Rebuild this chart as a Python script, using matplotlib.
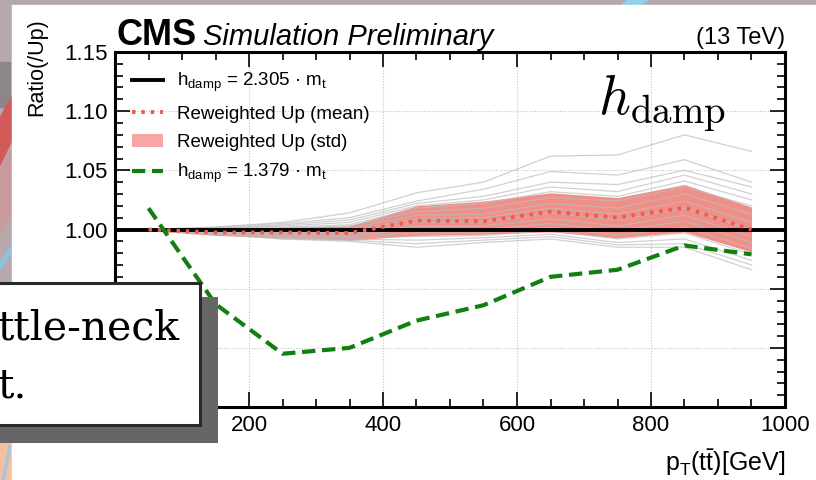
import matplotlib
matplotlib.use("Agg")
import matplotlib.pyplot as plt
from matplotlib.lines import Line2D
from matplotlib.patches import Patch, Rectangle, Polygon
from matplotlib.ticker import MultipleLocator, FormatStrFormatter

# ---- data -------------------------------------------------------------
pt_centers = [50, 150, 250, 350, 450, 550, 650, 750, 850, 950]

ratio_nominal = 1.0   # h_damp = 2.305 m_t reference (ratio to itself)

ratio_low_hdamp = [1.018, 0.937, 0.895, 0.900, 0.923, 0.936, 0.960, 0.966, 0.9865, 0.979]

rew_mean = [1.000, 0.9975, 0.9975, 0.997, 1.0075, 1.007, 1.015, 1.010, 1.0185, 1.000]
rew_upper = [1.001, 1.001, 1.002, 1.003, 1.020, 1.024, 1.031, 1.027, 1.038, 1.019]
rew_lower = [0.999, 0.995, 0.993, 0.991, 0.995, 0.996, 0.998, 0.993, 0.998, 0.981]

replicas = [
    [1.000, 1.002, 1.006, 1.014, 1.031, 1.040, 1.062, 1.063, 1.080, 1.066],
    [1.000, 1.002, 1.005, 1.010, 1.024, 1.034, 1.049, 1.046, 1.059, 1.040],
    [1.000, 1.001, 1.004, 1.008, 1.022, 1.028, 1.040, 1.038, 1.050, 1.036],
    [1.000, 1.001, 1.003, 1.006, 1.020, 1.025, 1.036, 1.032, 1.046, 1.030],
    [1.000, 1.001, 1.002, 1.004, 1.018, 1.022, 1.032, 1.028, 1.041, 1.025],
    [1.000, 1.000, 1.001, 1.003, 1.015, 1.018, 1.027, 1.024, 1.036, 1.020],
    [1.000, 1.000, 1.000, 1.001, 1.012, 1.013, 1.022, 1.018, 1.030, 1.013],
    [1.000, 0.999, 0.999, 0.999, 1.009, 1.010, 1.018, 1.013, 1.024, 1.006],
    [1.000, 0.998, 0.998, 0.997, 1.006, 1.006, 1.014, 1.008, 1.018, 1.000],
    [1.000, 0.998, 0.997, 0.996, 1.003, 1.003, 1.009, 1.003, 1.012, 0.994],
    [1.000, 0.997, 0.996, 0.995, 1.000, 1.000, 1.005, 0.999, 1.007, 0.989],
    [1.000, 0.997, 0.995, 0.994, 0.997, 0.997, 1.002, 0.995, 1.002, 0.984],
    [1.000, 0.996, 0.994, 0.993, 0.994, 0.995, 0.999, 0.992, 0.997, 0.979],
    [1.000, 0.996, 0.993, 0.992, 0.991, 0.993, 0.996, 0.989, 0.992, 0.974],
    [1.000, 0.996, 0.992, 0.991, 0.988, 0.991, 0.994, 0.987, 0.988, 0.970],
    [1.000, 0.996, 0.992, 0.990, 0.985, 0.989, 0.992, 0.985, 0.985, 0.966],
]

legend_labels = [
    r"h$_{\mathrm{damp}}$ = 2.305 · m$_{\mathrm{t}}$",
    "Reweighted Up (mean)",
    "Reweighted Up (std)",
    r"h$_{\mathrm{damp}}$ = 1.379 · m$_{\mathrm{t}}$",
]

# ---- style ------------------------------------------------------------
plt.rcParams["font.family"] = ["Liberation Sans", "DejaVu Sans"]
plt.rcParams["mathtext.fontset"] = "custom"
plt.rcParams["mathtext.rm"] = "Liberation Sans"
plt.rcParams["mathtext.it"] = "Liberation Sans:italic"
plt.rcParams["mathtext.bf"] = "Liberation Sans:bold"

RED = "#ee5a50"
BAND = "#ee7b73"
GREEN = "#118011"

fig = plt.figure(figsize=(8.16, 4.8), dpi=100, facecolor="white")

# slide backdrop around the embedded figure
bg = fig.add_axes([0, 0, 1, 1], zorder=-5)
bg.set_xlim(0, 816)
bg.set_ylim(480, 0)
bg.axis("off")
bg.add_patch(Rectangle((0, 0), 816, 5, color="#b3a7ae"))
bg.add_patch(Polygon([[628, 0], [648, 0], [640, 5], [622, 5]], color="#8fd0ea"))
bg.add_patch(Rectangle((0, 0), 12, 480, color="#b7a8ae"))
bg.add_patch(Rectangle((0, 62), 10, 45, color="#8c8688"))
bg.add_patch(Polygon([[0, 118], [12, 96], [12, 140], [0, 165]], color="#d35a58"))
bg.add_patch(Polygon([[0, 170], [12, 150], [12, 210], [0, 235]], color="#c99a9c"))
bg.add_patch(Polygon([[0, 262], [12, 245], [12, 252], [0, 270]], color="#8cc2de"))
bg.add_patch(Rectangle((0, 440), 12, 40, color="#f3bfa2"))
bg.add_patch(Polygon([[2, 480], [9, 446], [11, 446], [4, 480]], color="#a6c6de"))
bg.add_patch(Rectangle((12, 5), 804, 475, color="white"))

ax = fig.add_axes([115 / 816, 1 - 407 / 480, 670 / 816, 355 / 480])
ax.set_xlim(0, 1000)
ax.set_ylim(0.85, 1.15)

ax.fill_between(pt_centers, rew_lower, rew_upper, color=BAND, alpha=0.85,
                lw=0, zorder=2)
# replica curves
for rep in replicas:
    ax.plot(pt_centers, rep, color="#bdbdbd", lw=0.9, alpha=0.7, zorder=3)

ax.axhline(ratio_nominal, color="black", lw=2.8, zorder=4)
ax.plot(pt_centers, rew_mean, color=RED, lw=2.8, ls=(0, (0.9, 1.5)), zorder=5)
ax.plot(pt_centers, ratio_low_hdamp, color=GREEN, lw=3.0, ls=(0, (3.2, 1.6)),
        zorder=6)

# ticks & grid
ax.xaxis.set_major_locator(MultipleLocator(200))
ax.xaxis.set_minor_locator(MultipleLocator(50))
ax.yaxis.set_major_locator(MultipleLocator(0.05))
ax.yaxis.set_minor_locator(MultipleLocator(0.01))
ax.tick_params(which="both", direction="in", top=True, right=True, width=1.2)
ax.tick_params(which="major", length=11, labelsize=16)
ax.tick_params(which="minor", length=5.5)
ax.tick_params(axis="x", which="major", pad=6)
ax.tick_params(axis="y", which="major", pad=5)
ax.yaxis.set_major_formatter(FormatStrFormatter("%.2f"))
ax.grid(True, which="major", color="#c4c4c4", lw=0.8, ls=(0, (1, 1.5)), zorder=1)
for s in ax.spines.values():
    s.set_linewidth(2.2)

handles = [
    Line2D([], [], color="black", lw=2.8),
    Line2D([], [], color=RED, lw=2.8, ls=(0, (0.9, 1.5))),
    Patch(facecolor="#f6a6a4", lw=0),
    Line2D([], [], color=GREEN, lw=3.0, ls=(0, (3.2, 1.6))),
]
ax.legend(handles, legend_labels, loc="upper left",
          bbox_to_anchor=(17 / 670, 1 - 19 / 355), frameon=False,
          fontsize=13.5, handlelength=1.65, handletextpad=0.75,
          labelspacing=0.6, borderpad=0, borderaxespad=0)

ax.text(598 / 816, 1 - 115 / 480, r"$h_{\mathrm{damp}}$", transform=fig.transFigure,
        fontsize=40, math_fontfamily="cm", ha="left", va="baseline", zorder=7)

# headers and axis titles
fig.text(117 / 816, 1 - 45 / 480, "CMS", fontsize=26, fontweight="bold",
         ha="left", va="baseline")
fig.text(203 / 816, 1 - 45 / 480, "Simulation Preliminary", fontsize=21,
         style="italic", ha="left", va="baseline")
fig.text(785 / 816, 1 - 44 / 480, "(13 TeV)", fontsize=17, ha="right",
         va="baseline")
fig.text(37 / 816, 1 - 18 / 480, "Ratio(/Up)", fontsize=15.5, rotation=90,
         ha="center", va="top")
fig.text(785 / 816, 1 - 471 / 480, r"p$_{\mathrm{T}}$(t$\bar{\mathrm{t}}$)[GeV]",
         fontsize=18, ha="right", va="baseline")

# call-out box overlapping the lower-left corner
ov = fig.add_axes([0, 0, 1, 1], zorder=20)
ov.set_xlim(0, 816)
ov.set_ylim(480, 0)
ov.axis("off")
ov.patch.set_alpha(0)
ov.add_patch(Rectangle((-10, 297), 228, 146, color="#666666", lw=0))
ov.add_patch(Rectangle((-10, 283), 210, 142, facecolor="white",
                       edgecolor="#2a2a2a", lw=2.2))
ov.text(-2, 340, "ttle-neck", fontsize=29.5, family="DejaVu Serif",
        ha="left", va="baseline")
ov.text(-2, 397, "t.", fontsize=29.5, family="DejaVu Serif",
        ha="left", va="baseline")

fig.savefig("out.png", dpi=100, facecolor="white")
